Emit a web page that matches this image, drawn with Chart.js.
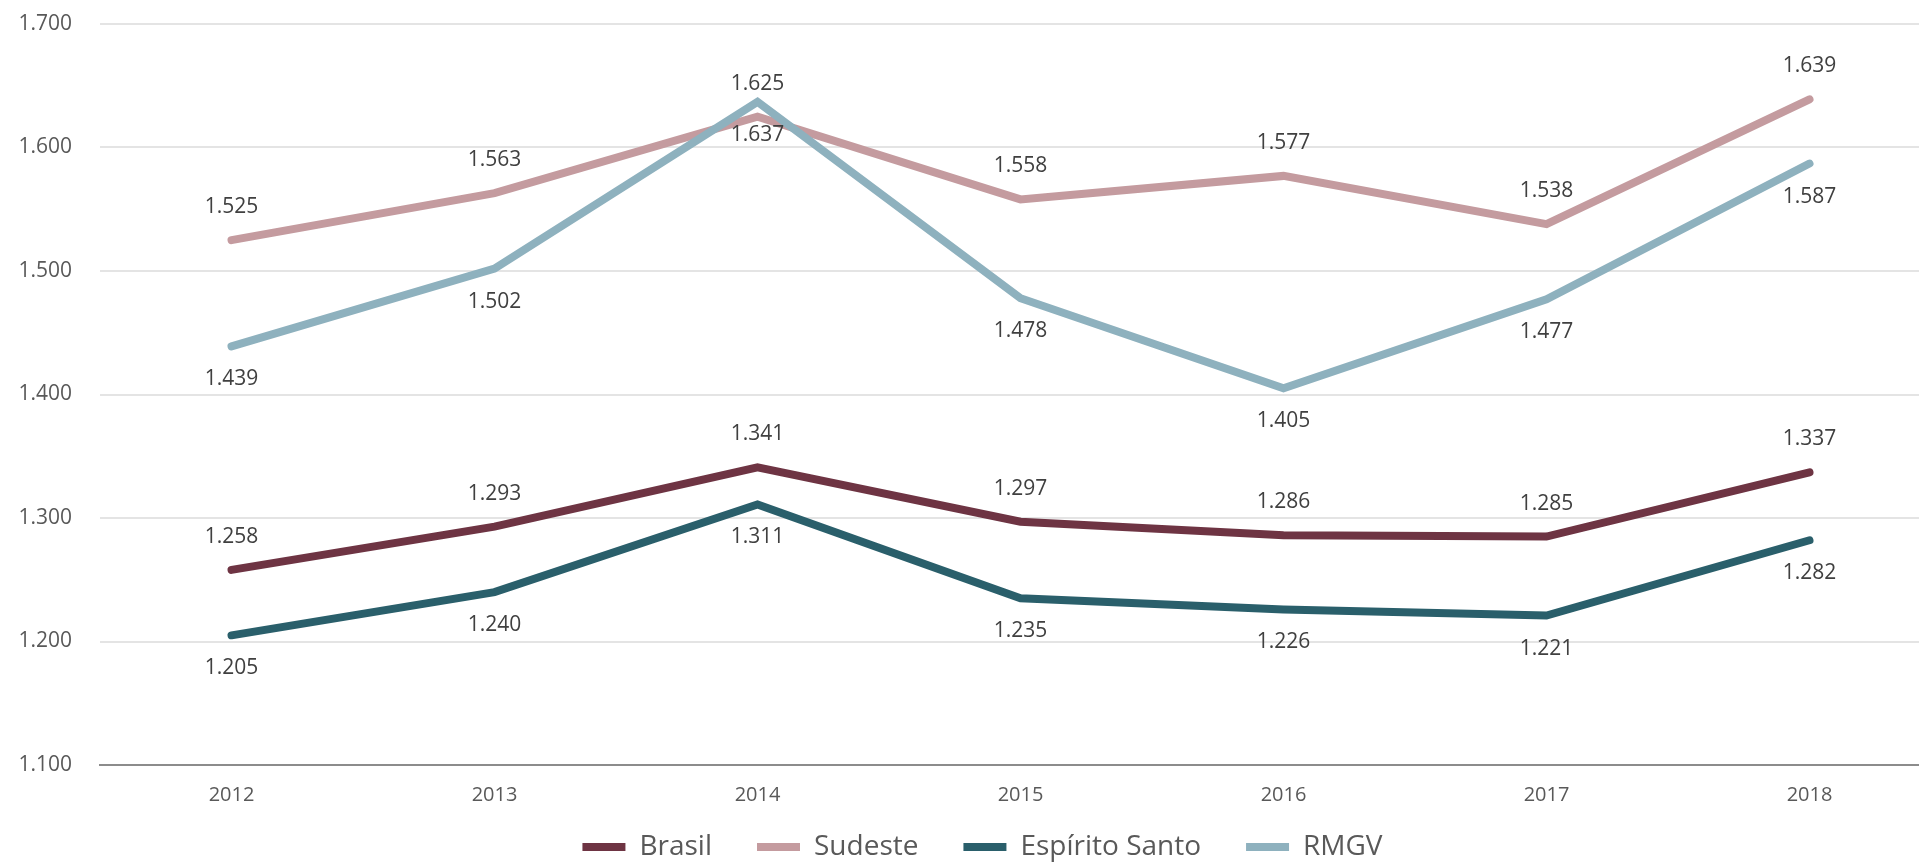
<!DOCTYPE html>
<html lang="pt-BR">
<head>
<meta charset="utf-8">
<title>Evolução 2012–2018</title>
<script src="https://cdn.jsdelivr.net/npm/chart.js@4/dist/chart.umd.min.js"></script>
<style>
  html, body { margin: 0; padding: 0; background: #ffffff; overflow: hidden; }
  #wrap { position: absolute; left: 0; top: 0; width: 1941px; height: 862px; }
</style>
</head>
<body>
<div id="wrap"><canvas id="chart" width="1941" height="862"></canvas></div>
<script>
// Categories and series
const years = ['2012', '2013', '2014', '2015', '2016', '2017', '2018'];
const brasil = [1258, 1293, 1341, 1297, 1286, 1285, 1337];
const sudeste = [1525, 1563, 1625, 1558, 1577, 1538, 1639];
const espiritoSanto = [1205, 1240, 1311, 1235, 1226, 1221, 1282];
const rmgv = [1439, 1502, 1637, 1478, 1405, 1477, 1587];

// Value axis range
const yMin = 1100;
const yMax = 1700;
const yStep = 100;

const FONT = '"Open Sans", "Liberation Sans", sans-serif';
const TEXT_GREY = '#595959';
const LABEL_GREY = '#404040';
const LEGEND_FONT = 28;
const LEGEND_GAP = 45;
const LEGEND_CENTER_Y = 847;
const LEGEND_SHIFT_X = 12;

// Brazilian thousands formatting: 1258 -> "1.258"
function fmt(v) {
  const n = Math.round(v);
  return Math.floor(n / 1000) + '.' + String(n % 1000).padStart(3, '0');
}

// Value labels placed above or below each point
const valueLabels = {
  id: 'valueLabels',
  afterDatasetsDraw(chart) {
    const ctx = chart.ctx;
    ctx.save();
    ctx.font = '21px ' + FONT;
    ctx.fillStyle = LABEL_GREY;
    ctx.textAlign = 'center';
    ctx.textBaseline = 'middle';
    chart.data.datasets.forEach((ds, i) => {
      const meta = chart.getDatasetMeta(i);
      if (meta.hidden) return;
      const dir = ds.labelSide === 'below' ? 1 : -1;
      meta.data.forEach((pt, j) => {
        ctx.fillText(fmt(ds.data[j]), pt.x, pt.y + dir * 33);
      });
    });
    ctx.restore();
  }
};

// Legend band: fixed height, row centred at LEGEND_CENTER_Y
const legendBand = {
  id: 'legendBand',
  beforeInit(chart) {
    const legend = chart.legend;
    if (!legend) return;
    const origFit = legend.fit;
    legend.fit = function () {
      origFit.call(this);
      this.height = 54;
    };
  },
  afterLayout(chart) {
    const legend = chart.legend;
    if (!legend) return;
    legend.top = LEGEND_CENTER_Y - LEGEND_GAP - LEGEND_FONT / 2;
    legend.bottom = chart.height;
    legend.height = legend.bottom - legend.top;
    legend.left += LEGEND_SHIFT_X;
    legend.right += LEGEND_SHIFT_X;
  }
};

function line(label, data, color, side, order) {
  return {
    label,
    data,
    borderColor: color,
    backgroundColor: color,
    borderWidth: 8,
    borderCapStyle: 'round',
    pointRadius: 0,
    pointHoverRadius: 0,
    tension: 0,
    fill: false,
    labelSide: side,
    order
  };
}

new Chart(document.getElementById('chart'), {
  type: 'line',
  data: {
    labels: years,
    datasets: [
      line('Brasil', brasil, '#6E3443', 'above', 3),
      line('Sudeste', sudeste, '#C49B9F', 'above', 2),
      line('Espírito Santo', espiritoSanto, '#2A5F6B', 'below', 1),
      line('RMGV', rmgv, '#8EB1BE', 'below', 0)
    ]
  },
  options: {
    responsive: false,
    animation: false,
    devicePixelRatio: 1,
    layout: { padding: { top: 24, left: 0, right: 0, bottom: 0 } },
    plugins: {
      tooltip: { enabled: false },
      legend: {
        position: 'bottom',
        align: 'center',
        labels: {
          usePointStyle: true,
          pointStyle: 'line',
          pointStyleWidth: 43,
          padding: LEGEND_GAP,
          color: TEXT_GREY,
          font: { family: FONT, size: LEGEND_FONT },
          sort: (a, b) => a.datasetIndex - b.datasetIndex
        }
      }
    },
    scales: {
      x: {
        type: 'category',
        offset: true,
        grid: { display: false, drawTicks: false },
        border: { display: true, color: '#8C8C8C', width: 2 },
        ticks: {
          color: TEXT_GREY,
          font: { family: FONT, size: 20 },
          padding: 18,
          maxRotation: 0
        },
        afterFit(scale) { scale.height = 43; }
      },
      y: {
        min: yMin,
        max: yMax,
        grid: {
          drawTicks: false,
          lineWidth: 2,
          color: (c) => (c.tick && c.tick.value === yMin ? '#8C8C8C' : '#E4E4E4')
        },
        border: { display: false },
        ticks: {
          stepSize: yStep,
          color: TEXT_GREY,
          font: { family: FONT, size: 21 },
          padding: 28,
          callback: (v) => fmt(v)
        },
        afterFit(scale) {
          scale.width = 100;
          scale.paddingTop = 0;
          scale.paddingBottom = 0;
        }
      }
    }
  },
  plugins: [valueLabels, legendBand]
});
</script>
</body>
</html>
